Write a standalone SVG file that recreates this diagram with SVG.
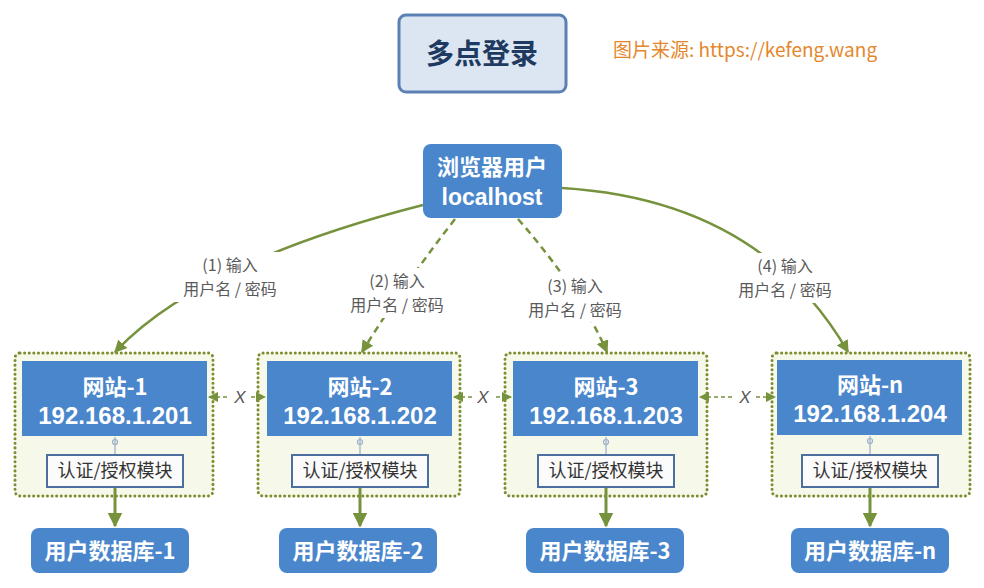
<svg xmlns="http://www.w3.org/2000/svg" width="984" height="588" viewBox="0 0 984 588">
<style>
.cjk{font-family:"Noto Sans CJK SC","Noto Sans",sans-serif}
.lat{font-family:"Liberation Sans","Noto Sans CJK SC",sans-serif}
.blue{fill:#4a86cc}
.wt{fill:#ffffff;font-weight:bold;text-anchor:middle}
.cont{fill:#f6f8ea;stroke:#7d8c2c;stroke-width:3;stroke-dasharray:0.1 4.5;stroke-linecap:round}
.auth{fill:#fbfbfb;stroke:#4d6f9f;stroke-width:2}
.at{fill:#333;font-size:18px;text-anchor:middle}
.lbl{fill:#5a5a5a;font-size:16px;text-anchor:middle}
.sol{fill:none;stroke:#76923c;stroke-width:2.5}
.dsh{fill:none;stroke:#76923c;stroke-width:2.5;stroke-dasharray:7 5}
.hx{fill:none;stroke:#76923c;stroke-width:1.5;stroke-dasharray:4 3}
.xl{fill:#555;font-size:17px;font-style:italic;text-anchor:middle;font-family:"Liberation Sans",sans-serif}
.down{fill:none;stroke:#76923c;stroke-width:3}
.tick{stroke:#9aaec8;stroke-width:1.2;fill:none}
</style>
<defs>
<marker id="ah" viewBox="0 0 10 10" refX="9" refY="5" markerWidth="5" markerHeight="5" orient="auto" markerUnits="strokeWidth">
<path d="M0,0 L10,5 L0,10 z" fill="#76923c"/>
</marker>
<marker id="ahs" viewBox="0 0 10 10" refX="9" refY="5" markerWidth="7" markerHeight="7" orient="auto-start-reverse" markerUnits="strokeWidth">
<path d="M0,0 L10,5 L0,10 z" fill="#76923c"/>
</marker>
</defs>
<rect width="984" height="588" fill="#ffffff"/>

<g id="title">
<rect x="399" y="15" width="167" height="77" rx="7" fill="#dce6f2" stroke="#5b80b4" stroke-width="3"/>
<text x="482" y="64" class="cjk" font-size="28" font-weight="bold" fill="#1f3a60" text-anchor="middle">多点登录</text>
</g>
<g id="source">
<text x="613" y="57" class="cjk" font-size="19" fill="#e4872c">图片来源: https://kefeng.wang</text>
</g>

<g id="containers">
<rect x="15" y="353" width="198" height="143" rx="5" class="cont"/>
<rect x="258" y="353" width="202" height="143" rx="5" class="cont"/>
<rect x="505" y="353" width="202" height="143" rx="5" class="cont"/>
<rect x="772" y="353" width="198" height="143" rx="5" class="cont"/>
</g>

<g id="connectors">
<path d="M423,205 Q200,262 115,352" class="sol" marker-end="url(#ah)"/>
<path d="M455,219 Q400,290 362,352" class="dsh" marker-end="url(#ah)"/>
<path d="M518,219 Q580,290 607,352" class="dsh" marker-end="url(#ah)"/>
<path d="M562,188 Q760,200 848,352" class="sol" marker-end="url(#ah)"/>
<line x1="209" y1="397" x2="265" y2="397" class="hx" marker-start="url(#ahs)" marker-end="url(#ahs)"/>
<line x1="454" y1="397" x2="511" y2="397" class="hx" marker-start="url(#ahs)" marker-end="url(#ahs)"/>
<line x1="700" y1="397" x2="775" y2="397" class="hx" marker-start="url(#ahs)" marker-end="url(#ahs)"/>
<path d="M115,437 V455 M360,437 V455 M606,437 V455 M870,436 V455" class="tick"/>
<circle cx="115" cy="442" r="2.5" class="tick" fill="#f6f8ea"/>
<circle cx="360" cy="442" r="2.5" class="tick" fill="#f6f8ea"/>
<circle cx="606" cy="442" r="2.5" class="tick" fill="#f6f8ea"/>
<circle cx="870" cy="441" r="2.5" class="tick" fill="#f6f8ea"/>
<line x1="115" y1="487" x2="115" y2="526" class="down" marker-end="url(#ah)"/>
<line x1="360" y1="487" x2="360" y2="526" class="down" marker-end="url(#ah)"/>
<line x1="606" y1="487" x2="606" y2="526" class="down" marker-end="url(#ah)"/>
<line x1="870" y1="487" x2="870" y2="526" class="down" marker-end="url(#ah)"/>
<rect x="229" y="386" width="22" height="22" fill="#ffffff"/>
<rect x="472" y="386" width="22" height="22" fill="#ffffff"/>
<rect x="734" y="386" width="22" height="22" fill="#ffffff"/>
<text x="240" y="403" class="xl">X</text>
<text x="483" y="403" class="xl">X</text>
<text x="745" y="403" class="xl">X</text>
<g class="cjk">
<rect x="172" y="252" width="116" height="50" fill="#ffffff"/>
<text x="230" y="271" class="lbl">(1) 输入</text>
<text x="230" y="295" class="lbl">用户名 / 密码</text>
<rect x="339" y="268" width="116" height="50" fill="#ffffff"/>
<text x="397" y="287" class="lbl">(2) 输入</text>
<text x="397" y="311" class="lbl">用户名 / 密码</text>
<rect x="517" y="272" width="116" height="50" fill="#ffffff"/>
<text x="575" y="292" class="lbl">(3) 输入</text>
<text x="575" y="316" class="lbl">用户名 / 密码</text>
<rect x="727" y="253" width="116" height="50" fill="#ffffff"/>
<text x="785" y="272" class="lbl">(4) 输入</text>
<text x="785" y="296" class="lbl">用户名 / 密码</text>
</g>
</g>

<g id="browser">
<rect x="423" y="144" width="139" height="74" rx="8" class="blue"/>
<text x="492" y="175" font-size="22" class="wt cjk">浏览器用户</text>
<text x="492" y="205" font-size="23" class="wt lat">localhost</text>
</g>

<g id="site1">
<rect x="22" y="361" width="185" height="75" class="blue"/>
<text x="115" y="395" font-size="22" class="wt cjk">网站-1</text>
<text x="115" y="424" font-size="24" class="wt lat">192.168.1.201</text>
</g>
<g id="site2">
<rect x="267" y="361" width="185" height="75" class="blue"/>
<text x="360" y="395" font-size="22" class="wt cjk">网站-2</text>
<text x="360" y="424" font-size="24" class="wt lat">192.168.1.202</text>
</g>
<g id="site3">
<rect x="513" y="361" width="185" height="75" class="blue"/>
<text x="606" y="395" font-size="22" class="wt cjk">网站-3</text>
<text x="606" y="424" font-size="24" class="wt lat">192.168.1.203</text>
</g>
<g id="siten">
<rect x="777" y="360" width="185" height="75" class="blue"/>
<text x="870" y="393" font-size="22" class="wt cjk">网站-n</text>
<text x="870" y="422" font-size="24" class="wt lat">192.168.1.204</text>
</g>

<g id="auth1" class="cjk"><rect x="47" y="455" width="136" height="32" class="auth"/><text x="115" y="477" class="at">认证/授权模块</text></g>
<g id="auth2" class="cjk"><rect x="292" y="455" width="136" height="32" class="auth"/><text x="360" y="477" class="at">认证/授权模块</text></g>
<g id="auth3" class="cjk"><rect x="538" y="455" width="136" height="32" class="auth"/><text x="606" y="477" class="at">认证/授权模块</text></g>
<g id="authn" class="cjk"><rect x="802" y="455" width="136" height="32" class="auth"/><text x="870" y="477" class="at">认证/授权模块</text></g>

<g id="db1" class="cjk"><rect x="31" y="528" width="158" height="45" rx="8" class="blue"/><text x="110" y="559" font-size="22" class="wt">用户数据库-1</text></g>
<g id="db2" class="cjk"><rect x="279" y="528" width="158" height="45" rx="8" class="blue"/><text x="358" y="559" font-size="22" class="wt">用户数据库-2</text></g>
<g id="db3" class="cjk"><rect x="526" y="528" width="158" height="45" rx="8" class="blue"/><text x="605" y="559" font-size="22" class="wt">用户数据库-3</text></g>
<g id="dbn" class="cjk"><rect x="791" y="528" width="158" height="45" rx="8" class="blue"/><text x="870" y="559" font-size="22" class="wt">用户数据库-n</text></g>
</svg>
